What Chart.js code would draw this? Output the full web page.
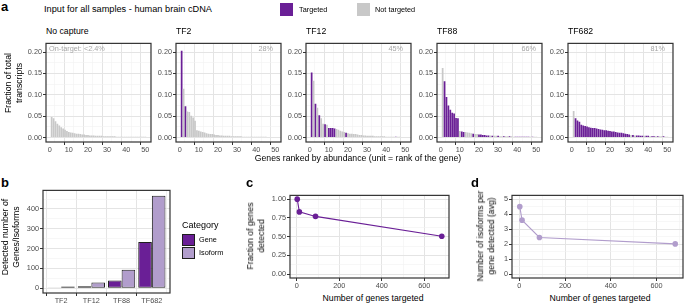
<!DOCTYPE html>
<html>
<head>
<meta charset="utf-8">
<script src="https://cdn.jsdelivr.net/npm/chart.js@4"></script>
<style>
  body { margin: 0; width: 685px; height: 304px; position: relative; overflow: hidden; background: #fff;
         font-family: "Liberation Sans", Arial, sans-serif; }
  canvas { position: absolute; }
  .t { position: absolute; white-space: nowrap; line-height: 1; color: #000; }
  .box { position: absolute; }
</style>
</head>
<body>
<canvas id="p0"></canvas><canvas id="p1"></canvas><canvas id="p2"></canvas><canvas id="p3"></canvas><canvas id="p4"></canvas>
<canvas id="pb"></canvas><canvas id="pc"></canvas><canvas id="pd"></canvas>
<script>
// ---- data ----
const panelNames = ["No capture", "TF2", "TF12", "TF88", "TF682"];
const onTarget = ["On-target: <2.4%", "28%", "45%", "66%", "81%"];
const ranks = Array.from({ length: 50 }, (_, i) => i + 1);

const noCapture = [0.048,0.045,0.038,0.032,0.028,0.024,0.021,0.018,0.015,0.013,0.012,0.011,0.010,0.009,0.009,0.008,0.007,0.007,0.006,0.006,
  0.005,0.005,0.005,0.004,0.004,0.004,0.004,0.003,0.003,0.003,0.003,0.003,0.003,0.003,0.002,0.002,0.002,0.002,0.002,0.002,
  0.002,0.002,0.002,0.002,0.002,0.002,0.002,0.002,0.002,0.002];
const noCaptureTargeted = new Array(50).fill(0);

const tf2 = [0.203,0.114,0.073,0.061,0.060,0.051,0.047,0.039,0.017,0.016,0.014,0.013,0.012,0.010,0.009,0.008,0.008,0.007,0.006,0.006,
  0.005,0.005,0.004,0.004,0.004,0.004,0.003,0.003,0.003,0.003,0.003,0.003,0.002,0.002,0.002,0.002,0.002,0.002,0.002,0.002,
  0.002,0.002,0.002,0.002,0.002,0.001,0.001,0.001,0.001,0.001];
const tf2Targeted = [1,0,1,0,0,0,0,0,0,0, 0,0,0,0,0,0,0,0,0,0, 0,0,0,0,0,0,0,0,0,0, 0,0,0,0,0,0,0,0,0,0, 0,0,0,0,0,0,0,0,0,0];

const tf12 = [0.152,0.133,0.079,0.070,0.052,0.045,0.032,0.031,0.030,0.022,0.022,0.022,0.021,0.020,0.018,0.016,0.014,0.013,0.011,0.010,
  0.009,0.009,0.008,0.008,0.007,0.006,0.006,0.005,0.005,0.004,0.004,0.004,0.004,0.003,0.003,0.003,0.003,0.003,0.003,0.002,
  0.002,0.002,0.002,0.002,0.002,0.002,0.002,0.001,0.001,0.001];
const tf12Targeted = [1,0,1,0,1,0,0,1,0,1, 1,1,1,0,0,0,0,0,1,0, 0,0,0,0,0,0,0,0,0,0, 0,0,0,0,0,0,0,0,0,0, 0,0,0,0,1,0,0,0,0,0];

const tf88 = [0.163,0.132,0.095,0.075,0.065,0.058,0.056,0.046,0.045,0.015,0.014,0.013,0.013,0.012,0.011,0.010,0.009,0.008,0.008,0.007,
  0.007,0.006,0.006,0.005,0.005,0.005,0.004,0.004,0.004,0.004,0.003,0.003,0.003,0.003,0.003,0.003,0.003,0.002,0.002,0.002,
  0.002,0.002,0.002,0.002,0.002,0.002,0.002,0.002,0.002,0.002];
const tf88Targeted = [0,1,1,1,1,1,1,1,1,0, 1,1,0,0,0,0,1,0,0,1, 1,1,1,1,1,0,1,0,0,1, 0,0,1,0,0,1,0,0,1,1, 1,1,1,1,1,1,0,1,0,0];

const tf682 = [0.062,0.045,0.040,0.037,0.030,0.028,0.027,0.026,0.024,0.023,0.022,0.022,0.021,0.020,0.019,0.018,0.017,0.017,0.016,0.015,
  0.014,0.014,0.013,0.012,0.011,0.011,0.010,0.009,0.008,0.007,0.006,0.006,0.005,0.005,0.005,0.004,0.004,0.004,0.004,0.004,
  0.003,0.003,0.003,0.003,0.003,0.003,0.003,0.003,0.002,0.002];
const tf682Targeted = [0,1,1,1,1,1,1,1,1,1, 1,1,1,1,1,1,1,1,1,1, 1,1,1,1,1,1,1,1,1,1, 0,1,0,1,1,1,1,0,1,1, 0,1,1,0,1,0,0,1,0,0];

const panelValues = [noCapture, tf2, tf12, tf88, tf682];
const panelTargeted = [noCaptureTargeted, tf2Targeted, tf12Targeted, tf88Targeted, tf682Targeted];

// panel b
const captureSets = ["TF2", "TF12", "TF88", "TF682"];
const genesDetected = [2, 10, 39, 234];
const isoformsDetected = [9, 29, 94, 467];

// panels c, d
const genesTargeted = [2, 12, 88, 682];
const fractionDetected = [1.0, 0.83, 0.77, 0.505];
const isoformsPerGene = [4.5, 3.6, 2.45, 2.02];

// ---- styles ----
const PURPLE = "#6a1f96";
const GREY = "#c8c8c8";
const LIGHT = "#b19dcc";
const FONT = "'Liberation Sans', Arial, sans-serif";
const TITLE = 8.7;

Chart.defaults.font.family = FONT;
Chart.defaults.animation = false;

const frame = {
  id: "frame",
  afterDraw(ch) {
    const a = ch.chartArea, c = ch.ctx;
    c.save();
    c.strokeStyle = "#333";
    c.lineWidth = 1.2;
    c.strokeRect(a.left, a.top, a.right - a.left, a.bottom - a.top);
    c.restore();
  }
};

// linear axis with ggplot-like major/minor grid
function axis(min, max, step, every, fmt, size, isX) {
  const isMajor = v => Math.abs(Math.round(v / step) % every) === 0;
  return {
    type: "linear", min, max, offset: false,
    border: { display: false },
    afterBuildTicks: s => {
      const t = [];
      for (let k = Math.ceil(min / step - 1e-9); k * step <= max + 1e-9; k++) t.push({ value: +(k * step).toFixed(6) });
      s.ticks = t;
    },
    afterFit: s => { if (isX) s.height = size; else s.width = size; },
    grid: {
      color: c => (c.tick && isMajor(c.tick.value)) ? "#e4e4e4" : "#f1f1f1",
      lineWidth: c => (c.tick && isMajor(c.tick.value)) ? 1 : 0.6,
      tickColor: c => (c.tick && isMajor(c.tick.value)) ? "#333" : "rgba(0,0,0,0)",
      tickLength: 3, tickWidth: 1
    },
    ticks: {
      autoSkip: false, maxRotation: 0, padding: 1,
      color: "#4d4d4d", font: { size: 7.3 },
      callback: v => isMajor(v) ? fmt(v) : ""
    }
  };
}

function place(id, l, t, w, h, padL, padB) {
  const c = document.getElementById(id);
  c.width = w + padL + 3;
  c.height = h + padB + 2;
  c.style.left = (l - padL) + "px";
  c.style.top = (t - 2) + "px";
  c.style.width = c.width + "px";
  c.style.height = c.height + "px";
  return c;
}

function base(scales) {
  return {
    responsive: false, animation: false,
    layout: { padding: { top: 2, right: 3, left: 0, bottom: 0 } },
    plugins: { legend: { display: false }, tooltip: { enabled: false } },
    scales
  };
}

// ---- panel a ----
const aLefts = [46, 176, 306, 437, 568];
panelValues.forEach((vals, p) => {
  const cv = place("p" + p, aLefts[p], 40, 105, 102, 28, 14);
  new Chart(cv, {
    type: "bar",
    data: {
      datasets: [{
        data: ranks.map((r, i) => ({ x: r, y: vals[i] })),
        backgroundColor: panelTargeted[p].map(f => f ? PURPLE : GREY),
        barPercentage: 0.9, categoryPercentage: 1
      }]
    },
    options: base({
      x: axis(-1.95, 52.95, 5, 2, v => String(v), 14, true),
      y: axis(-0.0105, 0.2205, 0.025, 2, v => v.toFixed(2), 28, false)
    }),
    plugins: [frame]
  });
});

// ---- panel b ----
const bAxisX = axis(0.4, 4.6, 1, 1, v => captureSets[v - 1] || "", 14, true);
bAxisX.grid.color = "#e4e4e4";
new Chart(place("pb", 43, 187, 127, 106, 24, 14), {
  type: "bar",
  data: {
    datasets: [
      { label: "Gene", data: genesDetected.map((v, i) => ({ x: i + 1, y: v })),
        backgroundColor: PURPLE, borderColor: "#1e1e1e", borderWidth: 1, borderSkipped: false,
        barPercentage: 1, categoryPercentage: 0.9 },
      { label: "Isoform", data: isoformsDetected.map((v, i) => ({ x: i + 1, y: v })),
        backgroundColor: LIGHT, borderColor: "#1e1e1e", borderWidth: 1, borderSkipped: false,
        barPercentage: 1, categoryPercentage: 0.9 }
    ]
  },
  options: base({
    x: bAxisX,
    y: axis(-23.5, 493.5, 50, 2, v => String(v), 24, false)
  }),
  plugins: [frame]
});

// ---- panels c, d ----
function linePanel(id, l, w, padL, ys, color, yAxis) {
  new Chart(place(id, l, 192, w, 86, padL, 14), {
    type: "line",
    data: {
      datasets: [{
        data: genesTargeted.map((x, i) => ({ x, y: ys[i] })),
        borderColor: color, backgroundColor: color, borderWidth: 1.1,
        pointRadius: 2.8, pointBorderWidth: 0, tension: 0
      }]
    },
    options: base({
      x: axis(-32, 716, 100, 2, v => String(v), 14, true),
      y: yAxis
    }),
    plugins: [frame]
  });
}
linePanel("pc", 290, 160, 24, fractionDetected, PURPLE, axis(-0.05, 1.05, 0.125, 2, v => v.toFixed(2), 24, false));
linePanel("pd", 512, 172, 16, isoformsPerGene, LIGHT, axis(-0.25, 5.25, 0.5, 2, v => String(v), 16, false));

// ---- text ----
function text(str, x, y, o = {}) {
  const d = document.createElement("div");
  d.className = "t";
  d.innerHTML = str;
  d.style.left = x + "px";
  d.style.top = y + "px";
  d.style.fontSize = (o.size || TITLE) + "px";
  if (o.color) d.style.color = o.color;
  if (o.bold) d.style.fontWeight = "bold";
  if (o.align) d.style.textAlign = o.align;
  d.style.transform = o.transform || "translateY(-50%)";
  if (o.lh) d.style.lineHeight = o.lh;
  document.body.appendChild(d);
}
function box(x, y, w, h, color, border) {
  const d = document.createElement("div");
  d.className = "box";
  d.style.cssText += `left:${x}px;top:${y}px;width:${w}px;height:${h}px;background:${color};` +
    (border ? `border:1px solid ${border};box-sizing:border-box;` : "");
  document.body.appendChild(d);
}
const ROT = "translate(-50%,-50%) rotate(-90deg)";

text("a", 1, 6, { size: 13, bold: true });
text("b", 1, 182, { size: 13, bold: true });
text("c", 246, 182, { size: 13, bold: true });
text("d", 471, 182, { size: 13, bold: true });

text("Input for all samples - human brain cDNA", 44, 10, { size: 9.2 });
box(280, 3, 13, 13, PURPLE);
text("Targeted", 299, 10, { size: 7.3 });
box(357, 3, 13, 13, GREY);
text("Not targeted", 375, 10, { size: 7.3 });

panelNames.forEach((n, p) => text(n, aLefts[p], 31));
text(onTarget[0], 49, 49, { size: 7.3, color: "#a6a6a6" });
const pctRight = [0, 273, 403, 536, 665];
for (let p = 1; p < 5; p++) text(onTarget[p], pctRight[p], 49, { size: 7.3, color: "#a6a6a6", transform: "translate(-100%,-50%)" });

text("Fraction of total<br>transcripts", 14, 83, { align: "center", lh: "1.25", transform: ROT });
text("Genes ranked by abundance (unit = rank of the gene)", 358, 158, { transform: "translate(-50%,-50%)" });

text("Detected number of<br>Genes/Isoforms", 11, 237, { align: "center", lh: "1.25", transform: ROT });
text("Category", 182, 225, { size: 9 });
box(182, 234, 13, 12, PURPLE, "#1e1e1e");
text("Gene", 199, 240, { size: 7.3 });
box(182, 247, 13, 12, LIGHT, "#1e1e1e");
text("Isoform", 199, 253, { size: 7.3 });

text("Fraction of genes<br>detected", 256, 236, { align: "center", lh: "1.25", transform: ROT });
text("Number of genes targeted", 373, 298, { transform: "translate(-50%,-50%)" });

text("Number of isoforms per<br>gene detected (avg)", 486, 236, { align: "center", lh: "1.25", transform: ROT });
text("Number of genes targeted", 600, 298, { transform: "translate(-50%,-50%)" });
</script>
</body>
</html>
